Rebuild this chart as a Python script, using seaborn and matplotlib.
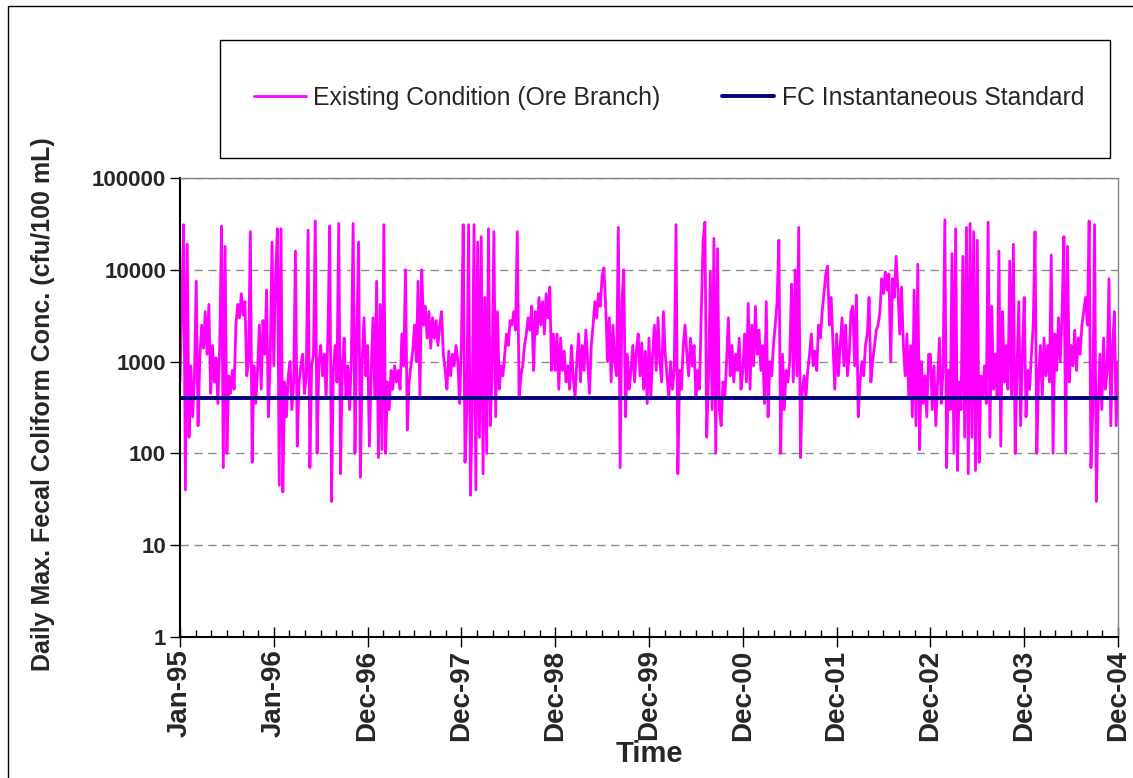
import numpy as np
import pandas as pd
import matplotlib
matplotlib.use("Agg")
import matplotlib.pyplot as plt
from matplotlib.patches import Rectangle
from matplotlib.ticker import NullLocator
import seaborn as sns

fc_1995 = [600, 4000, 31000, 40, 19000, 150, 900, 250, 700, 7500,
           200, 1100, 2500, 1400, 3500, 1200, 4200, 450, 1500, 600,
           1100, 350, 1500, 30000, 70, 18000, 100, 700, 450, 800,
           500, 2500, 4200, 3000, 5500, 3200, 4500, 700, 1000, 26000,
           80, 900, 350, 800, 2500, 500, 2800, 1200, 6000, 250,
           1000, 20000]
fc_1996 = [900, 9000, 28000, 45, 28000, 38, 600, 250, 700, 1000,
           300, 600, 16000, 120, 600, 900, 1200, 450, 700, 27000,
           70, 900, 1200, 34000, 100, 1000, 1500, 700, 1200, 400,
           2000, 30000, 30, 800, 1500, 600, 32000, 60, 900, 1800,
           400, 900, 300, 1100, 32000, 100, 2000, 20000, 55, 1000,
           3000, 700]
fc_1997 = [1500, 120, 800, 3000, 400, 7500, 90, 4200, 110, 31000,
           100, 600, 300, 800, 500, 900, 600, 800, 500, 2000,
           900, 10000, 180, 600, 900, 1300, 2500, 1000, 7500, 400,
           10000, 2500, 4000, 1800, 3500, 1400, 3000, 1800, 2800, 1500,
           2500, 3500, 1200, 800, 500, 1300, 700, 1200, 900, 1500,
           1000, 350]
fc_1998 = [1600, 31000, 80, 300, 31000, 35, 300, 31000, 40, 20000,
           150, 23000, 60, 5000, 100, 28000, 200, 700, 26000, 250,
           3500, 500, 900, 700, 1200, 2000, 1500, 2800, 2500, 3500,
           2200, 26000, 400, 700, 900, 1500, 2000, 3000, 2200, 4000,
           800, 3500, 2000, 5000, 2500, 4500, 2000, 5500, 3000, 6500,
           800, 2000]
fc_1999 = [800, 2000, 500, 1800, 800, 1300, 600, 900, 500, 1500,
           700, 400, 1000, 2000, 600, 1500, 800, 2200, 1000, 450,
           1500, 2500, 4500, 3000, 5500, 4000, 8500, 10500, 4000, 1000,
           3000, 600, 2500, 1000, 700, 29000, 70, 4500, 10000, 250,
           1200, 500, 800, 1500, 600, 1300, 2000, 700, 1600, 500,
           1300, 350]
fc_2000 = [1800, 400, 1200, 2500, 800, 3000, 1000, 600, 3500, 1200,
           700, 400, 1000, 500, 800, 31000, 60, 800, 500, 1500,
           2500, 1200, 700, 1800, 900, 1500, 400, 800, 500, 3500,
           21000, 33000, 150, 700, 9500, 300, 22000, 100, 17000, 300,
           200, 600, 400, 1000, 3000, 700, 1500, 600, 1200, 800,
           1800, 500]
fc_2001 = [800, 2000, 600, 4300, 500, 2500, 900, 4000, 1200, 2200,
           800, 1500, 350, 4500, 250, 1000, 700, 1500, 2500, 4500,
           21000, 100, 1200, 300, 800, 600, 1000, 7000, 600, 10000,
           700, 29000, 90, 500, 700, 400, 800, 1200, 2000, 900,
           1300, 800, 2500, 1800, 3500, 5500, 9000, 11000, 2500, 5000,
           1500, 500]
fc_2002 = [2000, 700, 1500, 3000, 900, 2500, 700, 1200, 3500, 4000,
           900, 5300, 250, 600, 1000, 700, 1500, 2000, 5000, 600,
           1000, 1500, 2200, 2500, 3500, 8000, 5500, 9500, 6000, 9000,
           1000, 8000, 5000, 14000, 6000, 2000, 6500, 1500, 700, 2000,
           400, 1500, 250, 6000, 200, 11500, 110, 1000, 350, 700,
           250, 1200]
fc_2003 = [1200, 300, 900, 200, 600, 1800, 350, 800, 35000, 70,
           800, 300, 15000, 100, 28000, 65, 600, 300, 14000, 150,
           29000, 60, 32000, 150, 26000, 65, 21000, 80, 700, 400,
           900, 350, 33000, 150, 4000, 500, 1200, 400, 16000, 120,
           3500, 600, 1500, 500, 12500, 400, 19000, 100, 800, 4500,
           200, 1200]
fc_2004 = [5000, 250, 800, 500, 1200, 2500, 26000, 100, 700, 1500,
           400, 1800, 700, 1500, 600, 14500, 100, 2000, 800, 3000,
           1000, 3500, 23000, 100, 18000, 600, 1500, 900, 2200, 800,
           1800, 1200, 2500, 3500, 5000, 2500, 34000, 70, 300, 31000,
           30, 350, 1200, 300, 1800, 500, 800, 8000, 200, 1500,
           3500, 200, 1000]

fc_standard = 400
start_date = "1995-01-01"
end_date = "2004-12-29"
tick_labels = ["Jan-95", "Jan-96", "Dec-96", "Dec-97", "Dec-98", "Dec-99",
               "Dec-00", "Dec-01", "Dec-02", "Dec-03", "Dec-04"]
y_ticks = [1, 10, 100, 1000, 10000, 100000]
series_labels = ["Existing Condition (Ore Branch)", "FC Instantaneous Standard"]

fc_all = (fc_1995 + fc_1996 + fc_1997 + fc_1998 + fc_1999 +
          fc_2000 + fc_2001 + fc_2002 + fc_2003 + fc_2004)
dates = pd.date_range(start_date, end_date, periods=len(fc_all))
df = pd.DataFrame({"date": dates, "fc": fc_all, "standard": fc_standard})

sns.set_style("white")
plt.rcParams["font.family"] = ["Liberation Sans", "DejaVu Sans"]

W, H = 1133, 778
fig = plt.figure(figsize=(W / 100, H / 100), dpi=100)
ax = fig.add_axes([180 / W, 1 - 637 / H, 938 / W, 459 / H])

sns.lineplot(data=df, x="date", y="fc", color="#FF00FF", lw=2.0,
             estimator=None, ax=ax, label=series_labels[0])
sns.lineplot(data=df, x="date", y="standard", color="#000080", lw=2.8,
             estimator=None, ax=ax, label=series_labels[1])

# y axis: log decades
ax.set_yscale("log")
ax.set_ylim(1, 100000)
ax.set_yticks(y_ticks)
ax.set_yticklabels([str(v) for v in y_ticks], fontsize=16, fontweight="bold")
ax.yaxis.set_minor_locator(NullLocator())
ax.tick_params(axis="y", which="major", direction="out", length=7, width=1,
               color="black", pad=3, left=True)

# x axis: Excel-style 365 day major unit
t0 = pd.Timestamp(start_date)
major = [t0 + pd.Timedelta(days=365 * k) for k in range(len(tick_labels))]
minor = [t0 + pd.Timedelta(days=365 * k / 6) for k in range(6 * (len(tick_labels) - 1) + 1) if k % 6]
ax.set_xlim(t0, pd.Timestamp(end_date))
ax.set_xticks(major)
ax.set_xticklabels(tick_labels, rotation=90, fontsize=20, fontweight="bold")
ax.set_xticks(minor, minor=True)
ax.tick_params(axis="x", which="major", direction="inout", length=14, width=1,
               color="black", pad=2, bottom=True)
ax.tick_params(axis="x", which="minor", direction="in", length=5, width=1,
               color="black", bottom=True)

ax.set_axisbelow(True)
ax.grid(False)
ax.yaxis.grid(True, which="major", linestyle=(0, (6, 4)), color="#8c8c8c", lw=1)

for side in ["top", "right"]:
    ax.spines[side].set_color("#808080")
    ax.spines[side].set_linewidth(1)
for side in ["left", "bottom"]:
    ax.spines[side].set_color("black")
    ax.spines[side].set_linewidth(1.5)

ax.set_xlabel("Time", fontsize=21, fontweight="bold")
ax.xaxis.set_label_coords(0.5, (637 - 740) / 459)
ax.set_ylabel("Daily Max. Fecal Coliform Conc. (cfu/100 mL)", fontsize=18, fontweight="bold")
ax.yaxis.set_label_coords((55 - 180) / 938, 0.508)

# legend sits in its own box above the plot
handles, labels = ax.get_legend_handles_labels()
ax.get_legend().remove()
fig.patches.append(Rectangle((220 / W, 1 - 158 / H), 890 / W, 118 / H,
                             transform=fig.transFigure, fill=False,
                             edgecolor="black", lw=1))
fig.legend(handles, labels, loc="center", bbox_to_anchor=(669 / W, 1 - 98 / H),
           ncol=2, frameon=False, fontsize=17.8, handlelength=2.1,
           handletextpad=0.3, columnspacing=2.5)

# outer chart border
fig.patches.append(Rectangle((8 / W, -0.02), 1.05, 1 - 6 / H + 0.02,
                             transform=fig.transFigure, fill=False,
                             edgecolor="black", lw=1))

fig.savefig("out.png", dpi=100)
